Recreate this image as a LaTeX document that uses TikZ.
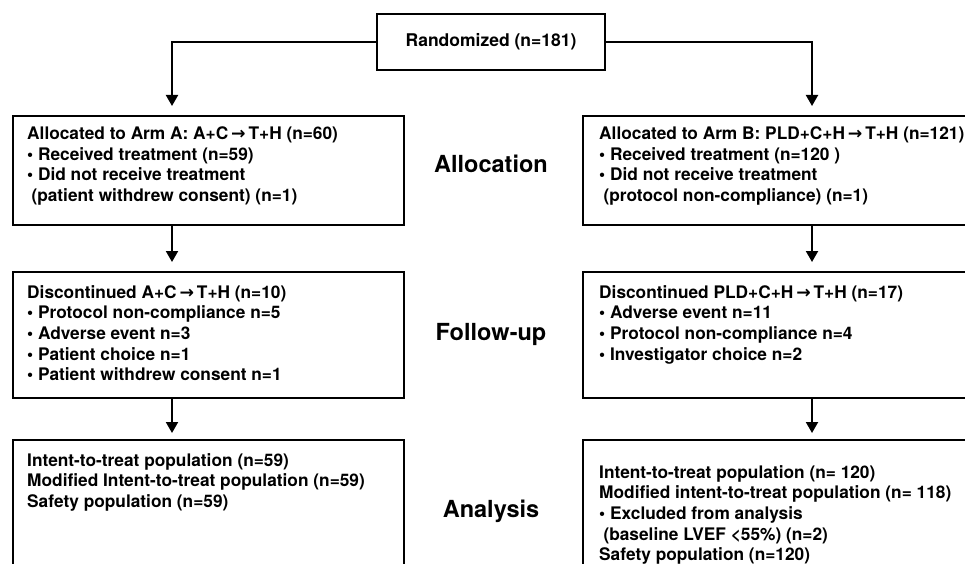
\documentclass[tikz,border=0pt]{standalone}
\usepackage{fontspec}
\setmainfont{TeX Gyre Heros}
\newfontfamily\arrowfont{DejaVu Sans}
\usetikzlibrary{positioning,arrows.meta}
\newcommand{\tto}{{\arrowfont\bfseries\,\symbol{"2192}\,}}
\newcommand{\bul}{\textbullet\ }
\newcommand{\ind}{\hspace*{0.25em}}

\begin{document}
\begin{tikzpicture}[x=1pt,y=-1pt,
    box/.style={draw,line width=2pt,inner sep=0pt,anchor=north west},
    txt/.style={anchor=base west,align=left,inner sep=0pt,
      font=\bfseries\fontsize{17.3}{20.7}\selectfont},
    stage/.style={font=\bfseries\fontsize{23.5}{26}\selectfont},
    trans/.style={-{Triangle[length=11pt,width=12pt]},line width=2pt,shorten >=9pt},
  ]
  \useasboundingbox (0,0) rectangle (965,564);
  \clip (0,0) rectangle (965,564);
  \fill[white] (0,0) rectangle (965,564);

  % top box
  \node (rand) [draw,line width=2pt,minimum width=228pt,minimum height=56pt,
    font=\bfseries\fontsize{17.5}{20}\selectfont] at (491,42) {Randomized (n=181)};

  % arm A
  \node (allocA) [box,minimum width=391pt,minimum height=109pt] at (12,115) {};
  \node (discA) [box,minimum width=391pt,minimum height=126pt] at (12,271) {};
  \node (anaA) [box,minimum width=391pt,minimum height=160pt] at (12,439) {};

  % arm B
  \node (allocB) [box,minimum width=420pt,minimum height=109pt] at (582,115) {};
  \node (discB) [box,minimum width=420pt,minimum height=126pt] at (582,271) {};
  \node (anaB) [box,minimum width=420pt,minimum height=160pt] at (582,439) {};

  \coordinate (colA) at (172,0);
  \coordinate (colB) at (812,0);

  % box texts (anchored on their last baseline)
  \node (tAllocA) [txt] at (27,201.6) {Allocated to Arm A: A+C\tto T+H (n=60)\\
    \bul Received treatment (n=59)\\
    \bul Did not receive treatment\\
    \ind(patient withdrew consent) (n=1)};
  \node (tDiscA) [txt] at (27,380.8) {Discontinued A+C\tto T+H (n=10)\\
    \bul Protocol non-compliance n=5\\
    \bul Adverse event n=3\\
    \bul Patient choice n=1\\
    \bul Patient withdrew consent n=1};
  \node (tAnaA) [txt] at (27,507.4) {Intent-to-treat population (n=59)\\
    Modified Intent-to-treat population (n=59)\\
    Safety population (n=59)};

  \node (tAllocB) [txt] at (599,201.6) {Allocated to Arm B: PLD+C+H\tto T+H (n=121)\\
    \bul Received treatment (n=120 )\\
    \bul Did not receive treatment\\
    \ind(protocol non-compliance) (n=1)};
  \node (tDiscB) [txt] at (599,360.1) {Discontinued PLD+C+H\tto T+H (n=17)\\
    \bul Adverse event n=11\\
    \bul Protocol non-compliance n=4\\
    \bul Investigator choice n=2};
  \node (tAnaB) [txt] at (599,560.8) {Intent-to-treat population (n= 120)\\
    Modified intent-to-treat population (n= 118)\\
    \bul Excluded from analysis\\
    \ind(baseline LVEF <55\%) (n=2)\\
    Safety population (n=120)};

  % stage labels
  \node (sAlloc) [stage] at (491,164) {Allocation};
  \node (sFollow) [stage] at (491,334) {Follow-up};
  \node (sAna) [stage] at (491,511) {Analysis};

  \draw [trans] (rand.west) -| (colA |- allocA.north);
  \draw [trans] (rand.east) -| (colB |- allocB.north);
  \draw [trans] (colA |- allocA.south) -- (colA |- discA.north);
  \draw [trans] (colB |- allocB.south) -- (colB |- discB.north);
  \draw [trans,shorten >=6pt] (colA |- discA.south) -- (colA |- anaA.north);
  \draw [trans,shorten >=6pt] (colB |- discB.south) -- (colB |- anaB.north);
\end{tikzpicture}
\end{document}
